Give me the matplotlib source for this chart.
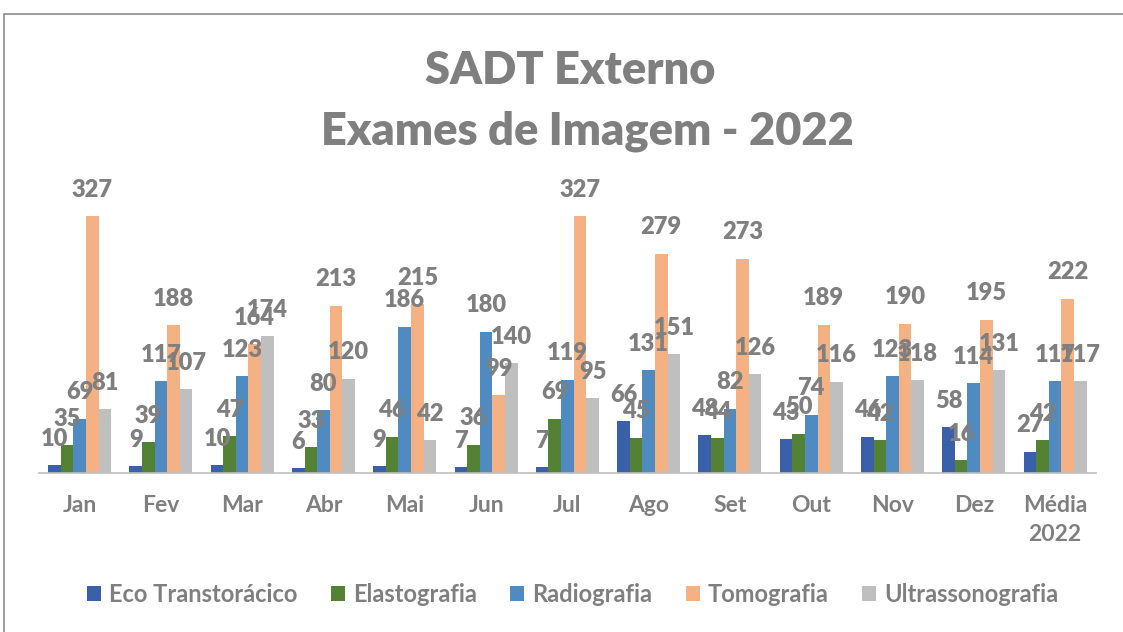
import numpy as np
import matplotlib.pyplot as plt
from matplotlib.patches import Rectangle

months = ['Jan', 'Fev', 'Mar', 'Abr', 'Mai', 'Jun', 'Jul', 'Ago', 'Set', 'Out',
          'Nov', 'Dez', 'Média\n2022']
series_names = ['Eco Transtorácico', 'Elastografia', 'Radiografia', 'Tomografia',
                'Ultrassonografia']

eco = [10, 9, 10, 6, 9, 7, 7, 66, 48, 43, 46, 58, 27]
elasto = [35, 39, 47, 33, 46, 36, 69, 45, 44, 50, 42, 16, 42]
radio = [69, 117, 123, 80, 186, 180, 119, 131, 82, 74, 123, 114, 117]
tomo = [327, 188, 164, 213, 215, 99, 327, 279, 273, 189, 190, 195, 222]
ultra = [81, 107, 174, 120, 42, 140, 95, 151, 126, 116, 118, 131, 117]

colors = ['#3a60aa', '#548235', '#4f8bc1', '#f4b183', '#bfbfbf']
GRAY = '#7f7f7f'

plt.rcParams['font.family'] = ['Lato', 'DejaVu Sans']

fig = plt.figure(figsize=(11.23, 6.32), dpi=100)
ax = fig.add_axes([0.0347, 0.2516, 0.941, 0.435])

x = np.arange(len(months))
w = 0.155
data = [eco, elasto, radio, tomo, ultra]
for k, (vals, name, c) in enumerate(zip(data, series_names, colors)):
    pos = x + (k - 2) * w
    ax.bar(pos, vals, width=w, color=c, label=name)
    for px, v in zip(pos, vals):
        ax.annotate(str(v), (px, v), xytext=(0, 19), textcoords='offset points',
                    ha='center', va='center', fontsize=17, fontweight='heavy',
                    color=GRAY, annotation_clip=False)

ax.set_xlim(-0.5, len(months) - 0.5)
ax.set_ylim(0, 350)
ax.set_yticks([])
for s in ['top', 'right', 'left']:
    ax.spines[s].set_visible(False)
ax.spines['bottom'].set_color('#bfbfbf')
ax.spines['bottom'].set_linewidth(1.2)
ax.set_xticks(x)
ax.set_xticklabels(months, fontsize=16.5, fontweight='bold', color=GRAY,
                   linespacing=1.45, va='top')
ax.tick_params(axis='x', length=0, pad=16)

fig.text(0.508, 0.888, 'SADT Externo', ha='center', va='center',
         fontsize=32.5, fontweight='heavy', color=GRAY)
fig.text(0.523, 0.793, 'Exames de Imagem - 2022', ha='center', va='center',
         fontsize=32.5, fontweight='heavy', color=GRAY)

fig.legend(loc='center', bbox_to_anchor=(0.51, 0.06), ncol=5, frameon=False,
           handlelength=0.6, handleheight=0.6, handletextpad=0.35, columnspacing=1.4,
           prop={'size': 17, 'weight': 'bold'}, labelcolor=GRAY)

# outer frame of the chart area (clipped at right and bottom)
fig.add_artist(Rectangle((4 / 1123, -0.1), 1.2, (632 - 14) / 632 + 0.1,
                         transform=fig.transFigure, fill=False,
                         edgecolor='#8c8c8c', linewidth=1.2))

fig.savefig('out.png', dpi=100)
